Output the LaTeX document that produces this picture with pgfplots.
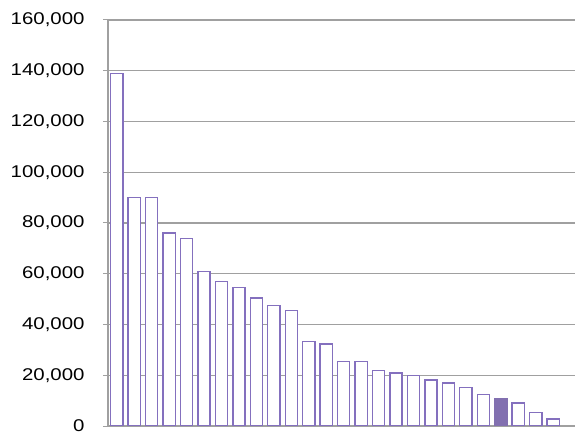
\documentclass[border=0pt]{standalone}
\usepackage{pgfplots}
\pgfplotsset{compat=1.18}
\usepackage{fontspec}
\setmainfont{Liberation Sans}[FakeStretch=1.2]
\definecolor{BarPurple}{RGB}{132,112,190}
\definecolor{FillPurple}{RGB}{130,112,176}
\definecolor{GridGray}{RGB}{160,160,160}

\begin{document}
\begin{tikzpicture}
\useasboundingbox (-108bp,-10bp) rectangle (467bp,426bp);
\begin{axis}[
    at={(0,0)}, anchor=south west,
    scale only axis,
    width=467bp, height=406bp,
    xmin=-0.5, xmax=26.25,
    ymin=0, ymax=160000,
    ytick={0,20000,...,160000},
    xtick=\empty,
    axis lines*=left,
    axis line style={GridGray, line width=1.1pt},
    ymajorgrids,
    major grid style={GridGray, line width=1.1pt},
    major tick length=5bp,
    y tick style={GridGray, line width=1pt},
    tick align=outside,
    scaled y ticks=false,
    yticklabel style={font=\fontsize{17bp}{20bp}\selectfont, xshift=-15bp},
    /pgf/number format/.cd, fixed, 1000 sep={,}, assume math mode=true,
]
\addplot[ybar, bar width=0.7, draw=BarPurple, fill=white, line width=1.4pt] coordinates {
    (0,139000) (1,90000) (2,90000) (3,76000) (4,74000) (5,61000)
    (6,57000) (7,54500) (8,50500) (9,47500) (10,45500) (11,33300)
    (12,32300) (13,25500) (14,25500) (15,21800) (16,20900) (17,20000)
    (18,18100) (19,16900) (20,15100) (21,12400) (23,9000) (24,5400)
    (25,2800)
};
\addplot[ybar, bar width=0.7, draw=FillPurple, fill=FillPurple, line width=1.4pt] coordinates {
    (22,10900)
};
\end{axis}
\end{tikzpicture}
\end{document}
